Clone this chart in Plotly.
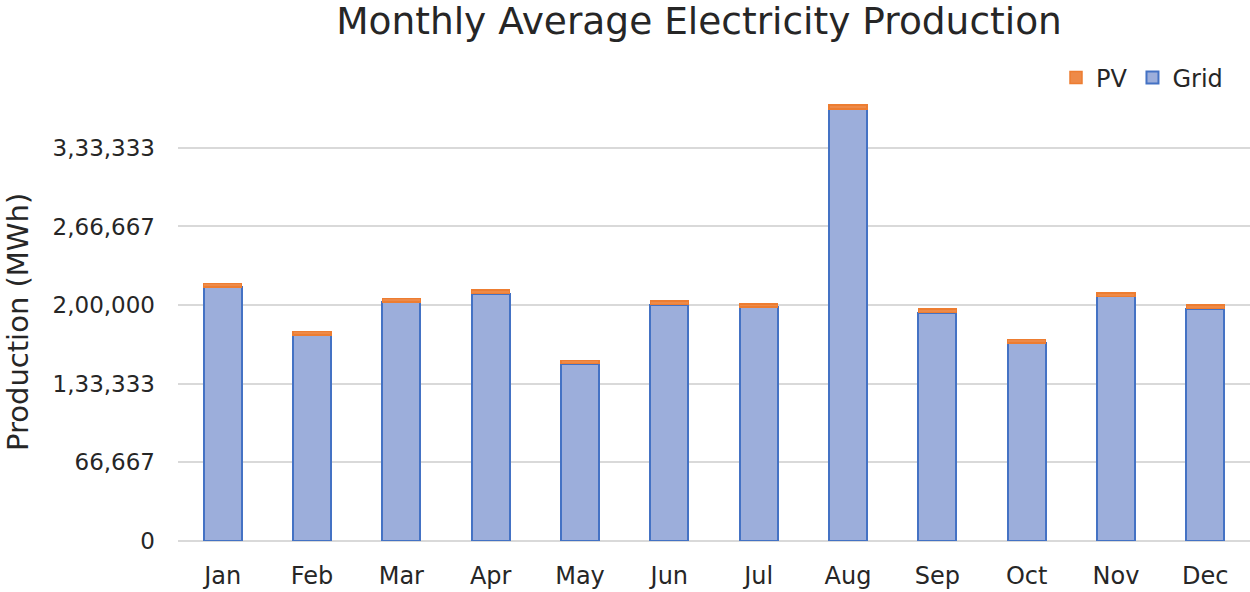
import plotly.graph_objects as go

months = ["Jan", "Feb", "Mar", "Apr", "May", "Jun", "Jul", "Aug", "Sep", "Oct", "Nov", "Dec"]
grid = [215400, 174700, 202700, 209800, 150400, 200500, 198300, 366100, 193700, 167900, 207500, 197100]
pv = [2900, 2800, 2900, 2800, 2800, 2800, 2800, 3400, 2800, 2900, 2800, 2800]
tick_vals = [0, 66666.67, 133333.33, 200000, 266666.67, 333333.33]
tick_text = ["0", "66,667", "1,33,333", "2,00,000", "2,66,667", "3,33,333"]

FONT = "DejaVu Sans"

fig = go.Figure()
fig.add_trace(go.Bar(
    x=months, y=grid, name="Grid",
    marker=dict(color="#9CAEDB", line=dict(color="#4472C4", width=2)),
))
fig.add_trace(go.Bar(
    x=months, y=pv, name="PV",
    marker=dict(color="#EE8A48", line=dict(color="#ED7D31", width=1.5)),
))

fig.update_layout(
    width=1250, height=592,
    barmode="stack", bargap=0.575,
    plot_bgcolor="white", paper_bgcolor="white",
    margin=dict(l=178, r=0, t=81, b=51, autoexpand=False),
    font=dict(family=FONT, color="#262626", size=24),
    title=dict(
        text="Monthly Average Electricity Production",
        font=dict(family=FONT, size=37.5, color="#262626"),
        x=699 / 1250, xanchor="center", xref="container",
        y=1 - 21 / 592, yanchor="middle", yref="container",
    ),
    legend=dict(
        orientation="h", traceorder="reversed",
        x=1228 / 1250, xanchor="right", xref="container",
        y=1 - 78 / 592, yanchor="middle", yref="container",
        font=dict(family=FONT, size=24, color="#262626"),
        itemwidth=30, bgcolor="rgba(0,0,0,0)",
    ),
    xaxis=dict(
        automargin=False,
        showgrid=False, showline=False, ticks="",
        tickfont=dict(family=FONT, size=24, color="#262626"),
        ticklabelstandoff=18,
    ),
    yaxis=dict(
        automargin=False,
        range=[0, 390000],
        tickvals=tick_vals, ticktext=tick_text,
        showgrid=True, gridcolor="#D9D9D9", gridwidth=2,
        zeroline=True, zerolinecolor="#D9D9D9", zerolinewidth=2,
        showline=False, ticks="",
        tickfont=dict(family=FONT, size=23, color="#262626"),
        ticklabelstandoff=22,
    ),
    annotations=[dict(
        text="Production (MWh)", textangle=-90,
        x=(18 - 178) / 1072, xref="paper", xanchor="center",
        y=(541 - 322) / 460, yref="paper", yanchor="middle",
        showarrow=False,
        font=dict(family=FONT, size=29, color="#262626"),
    )],
)

fig.write_html(
    "out.html",
    config={"displayModeBar": False},
    post_script="document.body.style.margin='0';document.body.style.overflow='hidden';",
)
